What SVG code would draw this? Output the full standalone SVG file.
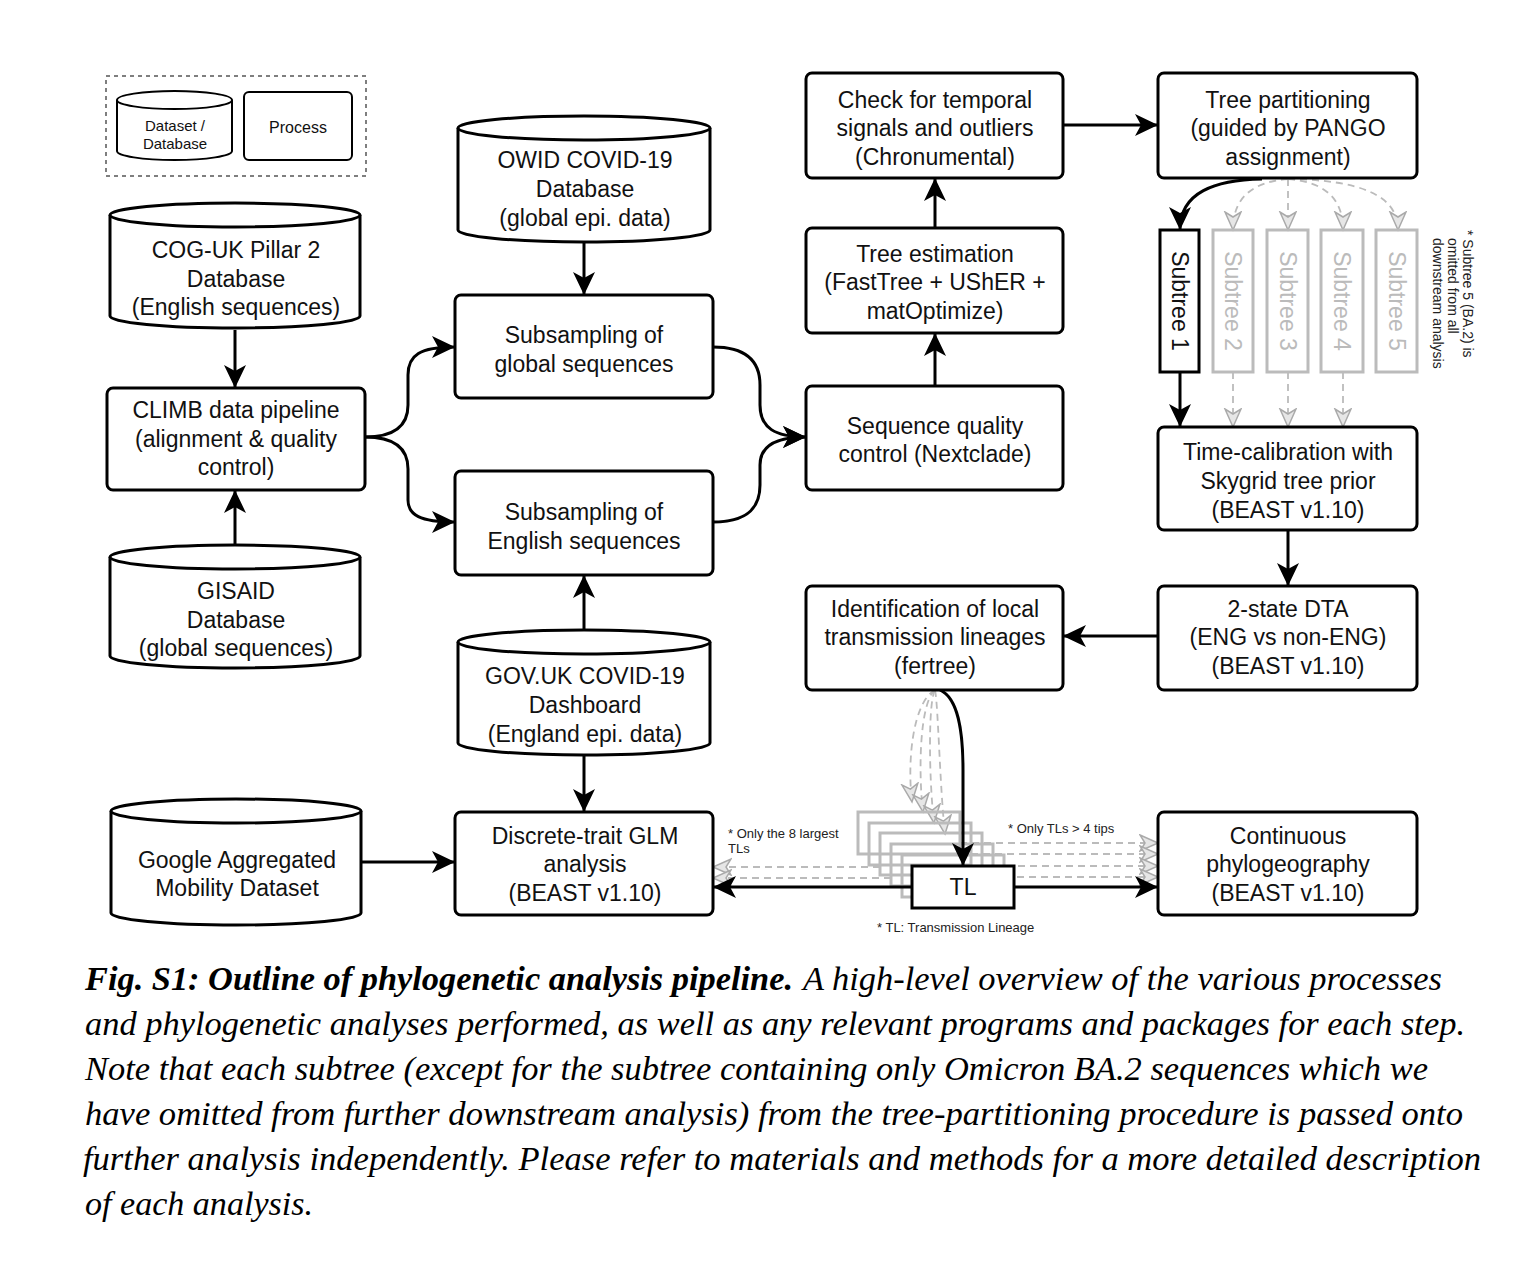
<svg xmlns="http://www.w3.org/2000/svg" width="1536" height="1280" viewBox="0 0 1536 1280">
<style>
.box{fill:#fff;stroke:#000;stroke-width:3}
.cyl{fill:#fff;stroke:#000;stroke-width:3}
.t{font-family:"Liberation Sans",Arial,sans-serif;font-size:23px;fill:#111;text-anchor:middle}
.s{font-family:"Liberation Sans",Arial,sans-serif;font-size:13px;fill:#222}
.gbox{fill:none;stroke:#bbb;stroke-width:3}
.gt{font-family:"Liberation Sans",Arial,sans-serif;font-size:23px;fill:#bbb;text-anchor:middle}
.c{fill:none;stroke:#000;stroke-width:3;marker-end:url(#ab)}
.g{fill:none;stroke:#bbb;stroke-width:1.8;stroke-dasharray:7 5;marker-end:url(#ag)}
.cap{font-family:"Liberation Serif","Times New Roman",serif;font-size:34px;font-style:italic;fill:#000}
</style>
<defs>
<marker id="ab" markerUnits="userSpaceOnUse" markerWidth="26" markerHeight="24" refX="23" refY="11" orient="auto">
<path d="M0,0 L23,11 L0,22 L6,11 Z" fill="#000"/>
</marker>
<marker id="ag" markerUnits="userSpaceOnUse" markerWidth="22" markerHeight="20" refX="19" refY="9" orient="auto">
<path d="M1,1 L19,9 L1,17 L6,9 Z" fill="#e6e6e6" stroke="#aaa" stroke-width="1.5"/>
</marker>
</defs>
<rect width="1536" height="1280" fill="#fff"/>

<g id="legend">
<rect x="106" y="76" width="260" height="100" fill="none" stroke="#555" stroke-width="1.5" stroke-dasharray="4 4"/>
<path d="M117,100 L117,151 A57.5,9 0 0 0 232,151 L232,100" fill="#fff" stroke="#000" stroke-width="2"/>
<ellipse cx="174.5" cy="100" rx="57.5" ry="9" fill="#fff" stroke="#000" stroke-width="2"/>
<text class="t" style="font-size:15px" x="175" y="131">Dataset /</text>
<text class="t" style="font-size:15px" x="175" y="149">Database</text>
<rect x="244" y="92" width="108" height="68" rx="5" fill="#fff" stroke="#000" stroke-width="2"/>
<text class="t" style="font-size:16px" x="298" y="133">Process</text>
</g>

<g id="connectors">
<path class="c" d="M235,330 L235,388"/>
<path class="c" d="M235,545 L235,490"/>
<path class="c" d="M365,437 C395,437 408,425 408,405 L408,375 C408,355 420,347 455,347"/>
<path class="c" d="M365,437 C395,437 408,449 408,469 L408,500 C408,515 420,522 455,522"/>
<path class="c" d="M713,347 C745,347 760,360 760,385 L760,405 C760,428 775,437 806,437"/>
<path class="c" d="M713,522 C745,522 760,510 760,485 L760,465 C760,446 775,437 806,437"/>
<path class="c" d="M584,242 L584,295"/>
<path class="c" d="M584,630 L584,575"/>
<path class="c" d="M584,755 L584,812"/>
<path class="c" d="M362,862 L455,862"/>
<path class="c" d="M935,386 L935,333"/>
<path class="c" d="M935,228 L935,178"/>
<path class="c" d="M1063,125 L1158,125"/>
<path class="c" d="M1262,179 C1215,180 1180,192 1180,230"/>
<path class="g" d="M1288,179 C1255,182 1233,195 1233,230"/>
<path class="g" d="M1288,179 L1288,230"/>
<path class="g" d="M1288,179 C1321,182 1343,195 1343,230"/>
<path class="g" d="M1288,179 C1360,180 1398,195 1398,230"/>
<path class="c" d="M1180,372 L1180,427"/>
<path class="g" d="M1233,372 L1233,427"/>
<path class="g" d="M1288,372 L1288,427"/>
<path class="g" d="M1343,372 L1343,427"/>
<path class="c" d="M1288,530 L1288,586"/>
<path class="c" d="M1158,636 L1063,636"/>
<path class="g" d="M880,867 L713,867"/>
<path class="g" d="M891,878 L713,878"/>
<path class="g" d="M960,843 L1158,843"/>
<path class="g" d="M971,854 L1158,854"/>
<path class="g" d="M982,866 L1158,866"/>
<path class="g" d="M993,877 L1158,877"/>
<path class="g" d="M935,690 C913,702 907,760 912,802"/>
<path class="g" d="M935,690 C920,702 918,770 923,812"/>
<path class="g" d="M935,690 C928,702 929,780 934,823"/>
<path class="g" d="M935,690 C938,702 940,790 945,834"/>
<rect class="gbox" x="858" y="812" width="102" height="42"/>
<rect class="gbox" x="869" y="823" width="102" height="42"/>
<rect class="gbox" x="880" y="833" width="102" height="42"/>
<rect class="gbox" x="891" y="844" width="102" height="42"/>
<rect class="gbox" x="902" y="855" width="102" height="42"/>
<path class="c" d="M940,690 C958,698 963,730 963,770 L963,866"/>
<path class="c" d="M912,887 L713,887"/>
<path class="c" d="M1014,887 L1158,887"/>
</g>

<g id="coguk">
<path class="cyl" d="M110,215 L110,316 A125,12 0 0 0 360,316 L360,215"/>
<ellipse class="cyl" cx="235" cy="215" rx="125" ry="12"/>
<text class="t" x="236" y="258">COG-UK Pillar 2</text>
<text class="t" x="236" y="287">Database</text>
<text class="t" x="236" y="315">(English sequences)</text>
</g>
<g id="climb">
<rect class="box" x="107" y="388" width="258" height="102" rx="6"/>
<text class="t" x="236" y="418">CLIMB data pipeline</text>
<text class="t" x="236" y="447">(alignment &amp; quality</text>
<text class="t" x="236" y="475">control)</text>
</g>
<g id="gisaid">
<path class="cyl" d="M110,557 L110,656 A125,12 0 0 0 360,656 L360,557"/>
<ellipse class="cyl" cx="235" cy="557" rx="125" ry="12"/>
<text class="t" x="236" y="599">GISAID</text>
<text class="t" x="236" y="628">Database</text>
<text class="t" x="236" y="656">(global sequences)</text>
</g>
<g id="google">
<path class="cyl" d="M111,811 L111,913 A125,12 0 0 0 361,913 L361,811"/>
<ellipse class="cyl" cx="236" cy="811" rx="125" ry="12"/>
<text class="t" x="237" y="868">Google Aggregated</text>
<text class="t" x="237" y="896">Mobility Dataset</text>
</g>
<g id="owid">
<path class="cyl" d="M458,128 L458,230 A126,12 0 0 0 710,230 L710,128"/>
<ellipse class="cyl" cx="584" cy="128" rx="126" ry="12"/>
<text class="t" x="585" y="168">OWID COVID-19</text>
<text class="t" x="585" y="197">Database</text>
<text class="t" x="585" y="226">(global epi. data)</text>
</g>
<g id="subglobal">
<rect class="box" x="455" y="295" width="258" height="103" rx="6"/>
<text class="t" x="584" y="343">Subsampling of</text>
<text class="t" x="584" y="372">global sequences</text>
</g>
<g id="subenglish">
<rect class="box" x="455" y="471" width="258" height="104" rx="6"/>
<text class="t" x="584" y="520">Subsampling of</text>
<text class="t" x="584" y="549">English sequences</text>
</g>
<g id="govuk">
<path class="cyl" d="M458,642 L458,743 A126,12 0 0 0 710,743 L710,642"/>
<ellipse class="cyl" cx="584" cy="642" rx="126" ry="12"/>
<text class="t" x="585" y="684">GOV.UK COVID-19</text>
<text class="t" x="585" y="713">Dashboard</text>
<text class="t" x="585" y="742">(England epi. data)</text>
</g>
<g id="glm">
<rect class="box" x="455" y="812" width="258" height="103" rx="6"/>
<text class="t" x="585" y="844">Discrete-trait GLM</text>
<text class="t" x="585" y="872">analysis</text>
<text class="t" x="585" y="901">(BEAST v1.10)</text>
</g>
<g id="check">
<rect class="box" x="806" y="73" width="257" height="105" rx="6"/>
<text class="t" x="935" y="108">Check for temporal</text>
<text class="t" x="935" y="136">signals and outliers</text>
<text class="t" x="935" y="165">(Chronumental)</text>
</g>
<g id="treeest">
<rect class="box" x="806" y="228" width="257" height="105" rx="6"/>
<text class="t" x="935" y="262">Tree estimation</text>
<text class="t" x="935" y="290">(FastTree + UShER +</text>
<text class="t" x="935" y="319">matOptimize)</text>
</g>
<g id="sqc">
<rect class="box" x="806" y="386" width="257" height="104" rx="6"/>
<text class="t" x="935" y="434">Sequence quality</text>
<text class="t" x="935" y="462">control (Nextclade)</text>
</g>
<g id="ident">
<rect class="box" x="806" y="586" width="257" height="104" rx="6"/>
<text class="t" x="935" y="617">Identification of local</text>
<text class="t" x="935" y="645">transmission lineages</text>
<text class="t" x="935" y="674">(fertree)</text>
</g>
<g id="treepart">
<rect class="box" x="1158" y="73" width="259" height="105" rx="6"/>
<text class="t" x="1288" y="108">Tree partitioning</text>
<text class="t" x="1288" y="136">(guided by PANGO</text>
<text class="t" x="1288" y="165">assignment)</text>
</g>
<g id="subtree1">
<rect class="box" x="1160" y="230" width="39" height="142"/>
<text class="t" transform="translate(1180,301) rotate(90)" x="0" y="8">Subtree 1</text>
</g>
<g id="subtree2">
<rect class="gbox" x="1213" y="230" width="40" height="142"/>
<text class="gt" transform="translate(1233,301) rotate(90)" x="0" y="8">Subtree 2</text>
</g>
<g id="subtree3">
<rect class="gbox" x="1267" y="230" width="41" height="142"/>
<text class="gt" transform="translate(1288,301) rotate(90)" x="0" y="8">Subtree 3</text>
</g>
<g id="subtree4">
<rect class="gbox" x="1321" y="230" width="42" height="142"/>
<text class="gt" transform="translate(1342,301) rotate(90)" x="0" y="8">Subtree 4</text>
</g>
<g id="subtree5">
<rect class="gbox" x="1376" y="230" width="41" height="142"/>
<text class="gt" transform="translate(1397,301) rotate(90)" x="0" y="8">Subtree 5</text>
</g>
<g id="note-subtree5">
<text class="s" style="font-size:14px" transform="translate(1463,230) rotate(90)" x="0" y="0">* Subtree 5 (BA.2) is</text>
<text class="s" style="font-size:14px" transform="translate(1448,238) rotate(90)" x="0" y="0">omitted from all</text>
<text class="s" style="font-size:14px" transform="translate(1433,238) rotate(90)" x="0" y="0">downstream analysis</text>
</g>
<g id="timecal">
<rect class="box" x="1158" y="427" width="259" height="103" rx="6"/>
<text class="t" x="1288" y="460">Time-calibration with</text>
<text class="t" x="1288" y="489">Skygrid tree prior</text>
<text class="t" x="1288" y="518">(BEAST v1.10)</text>
</g>
<g id="dta">
<rect class="box" x="1158" y="586" width="259" height="104" rx="6"/>
<text class="t" x="1288" y="617">2-state DTA</text>
<text class="t" x="1288" y="645">(ENG vs non-ENG)</text>
<text class="t" x="1288" y="674">(BEAST v1.10)</text>
</g>
<g id="contphylo">
<rect class="box" x="1158" y="812" width="259" height="103" rx="6"/>
<text class="t" x="1288" y="844">Continuous</text>
<text class="t" x="1288" y="872">phylogeography</text>
<text class="t" x="1288" y="901">(BEAST v1.10)</text>
</g>
<g id="tl">
<rect class="box" x="912" y="866" width="102" height="42"/>
<text class="t" x="963" y="895">TL</text>
</g>
<g id="labels">
<text class="s" x="728" y="838">* Only the 8 largest</text>
<text class="s" x="728" y="853">TLs</text>
<text class="s" x="1008" y="833">* Only TLs &gt; 4 tips</text>
<text class="s" x="877" y="932">* TL: Transmission Lineage</text>
</g>
<g id="caption">
<text class="cap" x="85" y="990" font-weight="bold" textLength="708" lengthAdjust="spacingAndGlyphs">Fig. S1: Outline of phylogenetic analysis pipeline.</text>
<text class="cap" x="803" y="990" textLength="639" lengthAdjust="spacingAndGlyphs">A high-level overview of the various processes</text>
<text class="cap" x="85" y="1035" textLength="1380" lengthAdjust="spacingAndGlyphs">and phylogenetic analyses performed, as well as any relevant programs and packages for each step.</text>
<text class="cap" x="85" y="1080" textLength="1343" lengthAdjust="spacingAndGlyphs">Note that each subtree (except for the subtree containing only Omicron BA.2 sequences which we</text>
<text class="cap" x="85" y="1125" textLength="1378" lengthAdjust="spacingAndGlyphs">have omitted from further downstream analysis) from the tree-partitioning procedure is passed onto</text>
<text class="cap" x="83" y="1170" textLength="1398" lengthAdjust="spacingAndGlyphs">further analysis independently. Please refer to materials and methods for a more detailed description</text>
<text class="cap" x="85" y="1215" textLength="228" lengthAdjust="spacingAndGlyphs">of each analysis.</text>
</g>
</svg>
